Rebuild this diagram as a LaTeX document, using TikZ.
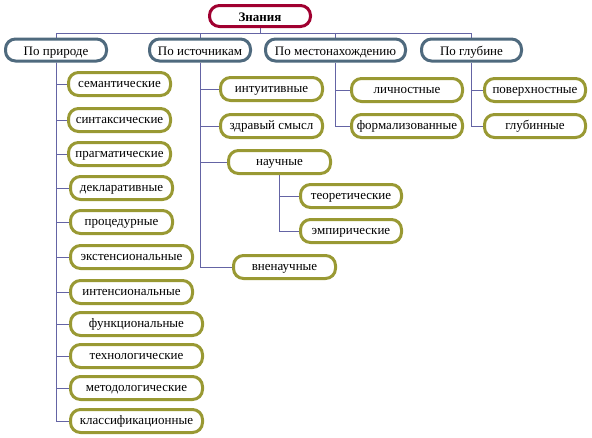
\documentclass[tikz,border=0pt]{standalone}
\usepackage{fontspec}
\setmainfont{Liberation Serif}
\usetikzlibrary{backgrounds}
\definecolor{rootred}{HTML}{A00030}
\definecolor{catblue}{HTML}{4F6A7E}
\definecolor{leafolive}{HTML}{999933}
\definecolor{linecol}{HTML}{6464A4}
\begin{document}
\begin{tikzpicture}[x=1pt,y=-1pt,
  basebox/.style={line width=3pt, rounded corners=10pt, inner sep=0pt, fill=white,
    text height=7.5pt, text depth=0pt,
    font=\fontsize{13}{15}\selectfont},
  rootbox/.style={basebox, draw=rootred, minimum width=101pt, minimum height=21pt,
    text height=10pt, font=\fontsize{13}{15}\selectfont\bfseries},
  catbox/.style={basebox, draw=catblue, minimum height=22pt, text height=11pt},
  leafbox/.style={basebox, draw=leafolive, minimum height=23pt},
  conn/.style={draw=linecol, line width=1pt}]
\useasboundingbox (0,0) rectangle (592,437);
\node[rootbox] (root) at (260,16) {Знания};
\node[catbox, minimum width=101pt] (pr) at (56,50) {По природе};
\node[catbox, minimum width=101pt] (ist) at (200,50) {По источникам};
\node[catbox, minimum width=140pt] (mest) at (335.5,50) {По местонахождению};
\node[catbox, minimum width=100pt] (glub) at (471.5,50) {По глубине};
% По природе
\node[leafbox, minimum width=102pt] (sem) at (119.5,84) {семантические};
\node[leafbox, minimum width=102pt] (sin) at (119.5,120) {синтаксические};
\node[leafbox, minimum width=102pt] (prag) at (119.5,154) {прагматические};
\node[leafbox, minimum width=102pt] (dekl) at (121.5,188) {декларативные};
\node[leafbox, minimum width=102pt] (proc) at (121.5,222) {процедурные};
\node[leafbox, minimum width=122pt] (ekst) at (131.5,257) {экстенсиональные};
\node[leafbox, minimum width=122pt] (inte) at (131.5,292) {интенсиональные};
\node[leafbox, minimum width=132pt] (func) at (136.5,324) {функциональные};
\node[leafbox, minimum width=132pt] (tech) at (136.5,356) {технологические};
\node[leafbox, minimum width=132pt] (meto) at (136.5,388) {методологические};
\node[leafbox, minimum width=132pt] (klas) at (136.5,421) {классификационные};
% По источникам
\node[leafbox, minimum width=102pt] (intu) at (271.5,89) {интуитивные};
\node[leafbox, minimum width=102pt] (zdra) at (271.5,126) {здравый смысл};
\node[leafbox, minimum width=102pt] (nauc) at (279.5,162) {научные};
\node[leafbox, minimum width=101pt] (teor) at (351,196) {теоретические};
\node[leafbox, minimum width=101pt] (empi) at (351,231) {эмпирические};
\node[leafbox, minimum width=102pt] (vnen) at (284.5,267) {вненаучные};
% По местонахождению
\node[leafbox, minimum width=111pt] (lich) at (407,90) {личностные};
\node[leafbox, minimum width=111pt] (form) at (407,126) {формализованные};
% По глубине
\node[leafbox, minimum width=101pt] (pove) at (535,90) {поверхностные};
\node[leafbox, minimum width=101pt] (glbn) at (535,126) {глубинные};
\coordinate (bus) at (0,33);
\begin{scope}[on background layer]
  \draw[conn] (root.south) -- (root.south |- bus);
  \draw[conn] (pr.north) -- (pr.north |- bus) -- (glub.north |- bus) -- (glub.north);
  \draw[conn] (ist.north) -- (ist.north |- bus);
  \draw[conn] (mest.north) -- (mest.north |- bus);
  \foreach \c in {sem,sin,prag,dekl,proc,ekst,inte,func,tech,meto,klas}
    \draw[conn] (pr.south) |- (\c.west);
  \foreach \c in {intu,zdra,nauc,vnen}
    \draw[conn] (ist.south) |- (\c.west);
  \foreach \c in {teor,empi}
    \draw[conn] (nauc.south) |- (\c.west);
  \foreach \c in {lich,form}
    \draw[conn] (mest.south) |- (\c.west);
  \foreach \c in {pove,glbn}
    \draw[conn] (glub.south) |- (\c.west);
\end{scope}
\end{tikzpicture}
\end{document}
